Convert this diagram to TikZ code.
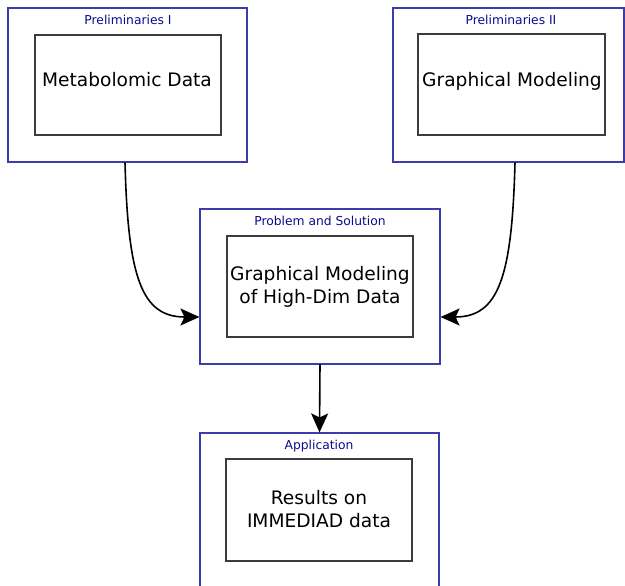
\documentclass[tikz,border=0pt]{standalone}
\usepackage{fontspec}
\setmainfont{DejaVu Sans}
\usetikzlibrary{arrows.meta,calc}
\definecolor{outerblue}{RGB}{60,60,170}
\definecolor{titleblue}{RGB}{10,10,140}
\definecolor{innergray}{RGB}{60,60,60}
\begin{document}
\begin{tikzpicture}[x=1pt,y=-1pt,
  outerbox/.style={draw=outerblue,line width=1.1pt,minimum width=#1,inner sep=0pt},
  innerbox/.style={draw=innergray,line width=1.2pt,inner sep=0pt},
  titletext/.style={font=\fontsize{12.3}{14}\selectfont,text=titleblue,anchor=base,inner sep=0pt},
  maintext/.style={font=\fontsize{18.6}{23}\selectfont,text=black,anchor=base,inner sep=0pt},
  conn/.style={draw=black,line width=1.6pt,-{Stealth[length=19pt,width=17pt,inset=4pt]}}
]
\clip (0,0) rectangle (625,586);
\useasboundingbox (0,0) rectangle (625,586);
% box 1
\node[outerbox=239pt,minimum height=154pt] (o1) at (127.5,85) {};
\node[innerbox,minimum width=186pt,minimum height=100pt] (i1) at (128,85) {};
\node[titletext] (t1) at (128,24.4) {Preliminaries I};
\node[maintext] (m1) at (127,86.6) {Metabolomic Data};
% box 2
\node[outerbox=231pt,minimum height=154pt] (o2) at (508.5,85) {};
\node[innerbox,minimum width=187pt,minimum height=101pt] (i2) at (511.5,84.5) {};
\node[titletext] (t2) at (511,24.4) {Preliminaries II};
\node[maintext] (m2) at (512,86.6) {Graphical Modeling};
% box 3
\node[outerbox=240pt,minimum height=155pt] (o3) at (320,286.5) {};
\node[innerbox,minimum width=186pt,minimum height=101pt] (i3) at (320,286.5) {};
\node[titletext] (t3) at (320,225.4) {Problem and Solution};
\node[maintext] (m3a) at (320,280.6) {Graphical Modeling};
\node[maintext] (m3b) at (320,303.6) {of High-Dim Data};
% box 4
\node[outerbox=239pt,minimum height=155pt] (o4) at (319.5,510.5) {};
\node[innerbox,minimum width=186pt,minimum height=102pt] (i4) at (319,510) {};
\node[titletext] (t4) at (319,449.4) {Application};
\node[maintext] (m4a) at (319,504.6) {Results on};
\node[maintext] (m4b) at (319,527.6) {IMMEDIAD data};
% connectors
\draw[conn] ([xshift=-2.5pt]o1.south) .. controls +(3,115) and +(-58,0) .. ([yshift=-30.5pt]o3.west);
\draw[conn] ([xshift=6.5pt]o2.south) .. controls +(-3,115) and +(58,0) .. ([yshift=-30.5pt]o3.east);
\draw[conn] (o3.south) -- (o4.north);
\end{tikzpicture}
\end{document}
